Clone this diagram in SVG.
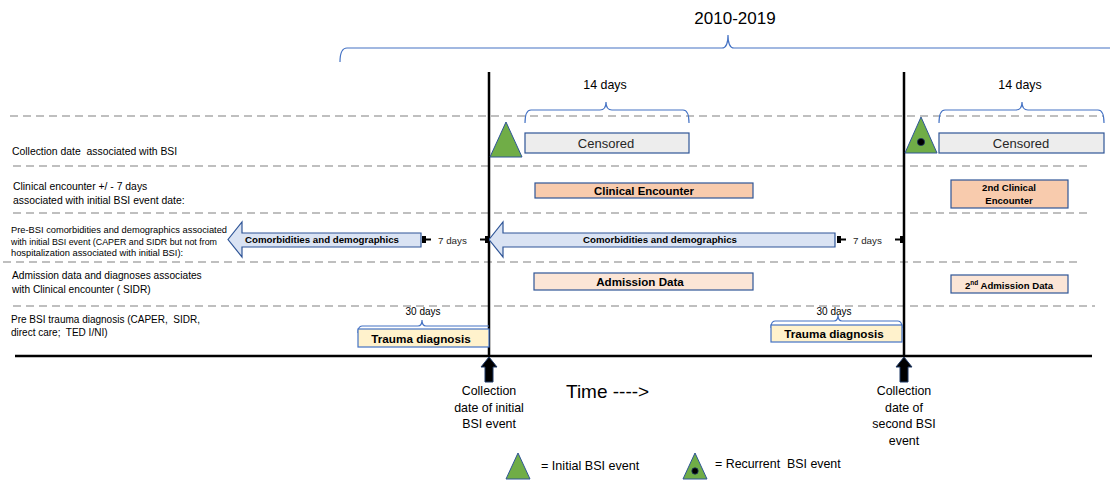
<svg xmlns="http://www.w3.org/2000/svg" width="1110" height="480" viewBox="0 0 1110 480" xml:space="preserve">
<style>
text{font-family:"Liberation Sans",Arial,sans-serif;fill:#000;white-space:pre}
.lbl{font-size:10.4px}
.sm{font-size:9.3px}
.dash{stroke:#bfbfbf;stroke-width:2;stroke-dasharray:8 5;fill:none}
.brace{stroke:#4472c4;stroke-width:1.2;fill:none}
.box{stroke:#2f5597;stroke-width:1.2}
.b{font-weight:bold}
.mid{text-anchor:middle}
.tri{fill:#70ad47;stroke:#2f5597;stroke-width:1}
.arr{fill:#dae3f3;stroke:#2f5597;stroke-width:1.2}
.vl{stroke:#000;stroke-width:2.5}
.cap{font-size:12.4px;text-anchor:middle}
</style>
<g id="gridlines">
<line class="dash" x1="10" y1="116" x2="1103" y2="116"/>
<line class="dash" x1="13" y1="166" x2="1092" y2="166"/>
<line class="dash" x1="13" y1="213" x2="1092" y2="213"/>
<line class="dash" x1="3" y1="262" x2="1082" y2="262"/>
<line class="dash" x1="13" y1="306" x2="1095" y2="306"/>
</g>
<g id="period">
<text x="735" y="24" class="mid" style="font-size:17px">2010-2019</text>
<path class="brace" d="M340,62 Q340,48 347,48 L722,48 Q728,48 728,35 Q728,48 734,48 L1110,48"/>
</g>
<g id="row-labels">
<text x="12" y="155" class="lbl">Collection date  associated with BSI</text>
<text x="13" y="190" class="lbl">Clinical encounter +/ - 7 days</text>
<text x="13" y="204" class="lbl">associated with initial BSI event date:</text>
<text x="11" y="233" class="sm">Pre-BSI comorbidities and demographics associated</text>
<text x="11" y="244.5" class="sm" textLength="206" lengthAdjust="spacingAndGlyphs">with initial BSI event (CAPER and SIDR but not from</text>
<text x="11" y="256" class="sm">hospitalization associated with initial BSI):</text>
<text x="12" y="279" class="lbl" style="font-size:10.2px">Admission data and diagnoses associates</text>
<text x="12" y="292.5" class="lbl" style="font-size:10.2px">with Clinical encounter ( SIDR)</text>
<text x="11" y="323" class="lbl" style="font-size:10px">Pre BSI trauma diagnosis (CAPER,  SIDR,</text>
<text x="11" y="336" class="lbl" style="font-size:10px">direct care;  TED I/NI)</text>
</g>
<g id="timeline">
<line x1="15" y1="356" x2="1092" y2="356" stroke="#000" stroke-width="2.5"/>
<line class="vl" x1="489" y1="72" x2="489" y2="357"/>
<line class="vl" x1="904" y1="72" x2="904" y2="357"/>
<text x="566" y="398" style="font-size:19px">Time ----&gt;</text>
</g>
<g id="event1">
<path class="brace" d="M525,123 Q525,110 531,110 L600,110 Q606,110 606,102 Q606,110 612,110 L683,110 Q689,110 689,123"/>
<text x="605" y="89" class="mid" style="font-size:12.4px">14 days</text>
<polygon class="tri" points="506,122 490,157 522,157"/>
<rect class="box" x="525" y="133" width="164" height="20" fill="#ededed"/>
<text x="606" y="148" class="mid" style="font-size:13px;fill:#262626">Censored</text>
</g>
<g id="clinical-encounter">
<rect class="box" x="535" y="183" width="218" height="15" fill="#f8cbad"/>
<text x="644" y="194.5" class="mid b" style="font-size:11.4px">Clinical Encounter</text>
</g>
<g id="comorbidities-1">
<polygon class="arr" points="228,239.5 242,222 242,233 421,233 421,247 242,247 242,257"/>
<text x="322" y="243" class="mid b" style="font-size:9.7px">Comorbidities and demographics</text>
</g>
<g id="comorbidities-2">
<polygon class="arr" points="489,239.5 503,222 503,233 835,233 835,247 503,247 503,257"/>
<text x="660" y="243" class="mid b" style="font-size:9.7px">Comorbidities and demographics</text>
</g>
<g id="interval-7days-1">
<rect x="422" y="236" width="4" height="7" fill="#000"/>
<line x1="426" y1="239.5" x2="431" y2="239.5" stroke="#000" stroke-width="2"/>
<text x="438" y="243.5" style="font-size:9.8px;fill:#262626">7 days</text>
<line x1="480" y1="239.5" x2="486" y2="239.5" stroke="#000" stroke-width="2"/>
<rect x="485" y="236" width="4" height="7" fill="#000"/>
</g>
<g id="interval-7days-2">
<rect x="837" y="236" width="4" height="7" fill="#000"/>
<line x1="841" y1="239.5" x2="846" y2="239.5" stroke="#000" stroke-width="2"/>
<text x="853" y="243.5" style="font-size:9.8px;fill:#262626">7 days</text>
<line x1="895" y1="239.5" x2="901" y2="239.5" stroke="#000" stroke-width="2"/>
<rect x="900" y="236" width="4" height="7" fill="#000"/>
</g>
<g id="admission-data">
<rect class="box" x="534" y="273" width="219" height="17" fill="#fbe5d6"/>
<text x="640" y="285.5" class="mid b" style="font-size:11.6px">Admission Data</text>
</g>
<g id="trauma-1">
<path class="brace" d="M358,333 Q358,326 362,326 L418,326 Q422,326 422,320 Q422,326 426,326 L489,326"/>
<text x="423" y="315" class="mid" style="font-size:10px">30 days</text>
<rect x="358" y="329" width="131" height="18" fill="#fff2cc" stroke="#4472c4" stroke-width="1.2"/>
<text x="421" y="342.5" class="mid b" style="font-size:11.7px">Trauma diagnosis</text>
</g>
<g id="trauma-2">
<path class="brace" d="M771,328 Q771,321 775,321 L834,321 Q838,321 838,315 Q838,321 842,321 L898,321 Q902,321 902,328"/>
<text x="834" y="315" class="mid" style="font-size:10px">30 days</text>
<rect x="771" y="325" width="131" height="17" fill="#fff2cc" stroke="#4472c4" stroke-width="1.2"/>
<text x="834" y="337.5" class="mid b" style="font-size:11.7px">Trauma diagnosis</text>
</g>
<g id="marker-1">
<polygon points="489,357 497,367 493,367 493,382 485,382 485,367 481,367" fill="#000" stroke="#1f3864" stroke-width="1"/>
<text x="489" y="395" class="cap">Collection</text>
<text x="489" y="411.5" class="cap">date of initial</text>
<text x="489" y="428" class="cap">BSI event</text>
</g>
<g id="event2">
<path class="brace" d="M939,123 Q939,110 945,110 L1016,110 Q1022,110 1022,102 Q1022,110 1028,110 L1098,110 Q1104,110 1104,123"/>
<text x="1020" y="89" class="mid" style="font-size:12.4px">14 days</text>
<polygon class="tri" points="921,117 905,153 937,153"/>
<circle cx="921" cy="142" r="3.6" fill="#000" stroke="#1f3864" stroke-width="0.8"/>
<rect class="box" x="939" y="133" width="165" height="20" fill="#ededed"/>
<text x="1021" y="148" class="mid" style="font-size:13px;fill:#262626">Censored</text>
</g>
<g id="clinical-encounter-2">
<rect class="box" x="951" y="180" width="117" height="28" fill="#f8cbad"/>
<text x="1009" y="191" class="mid b" style="font-size:9.6px">2nd Clinical</text>
<text x="1009" y="204" class="mid b" style="font-size:9.6px">Encounter</text>
</g>
<g id="admission-data-2">
<rect class="box" x="951" y="275" width="117" height="18" fill="#fbe5d6"/>
<text x="1009" y="288.5" class="mid b" style="font-size:9.6px">2<tspan dy="-3.5" style="font-size:6.5px">nd</tspan><tspan dy="3.5"> Admission Data</tspan></text>
</g>
<g id="marker-2">
<polygon points="904,357 912,367 908,367 908,382 900,382 900,367 896,367" fill="#000" stroke="#1f3864" stroke-width="1"/>
<text x="904" y="395" class="cap">Collection</text>
<text x="904" y="411.5" class="cap">date of</text>
<text x="904" y="428" class="cap">second BSI</text>
<text x="904" y="444.5" class="cap">event</text>
</g>
<g id="legend">
<polygon class="tri" points="518,453 506,479 530,479"/>
<text x="541" y="470" style="font-size:12.6px">= Initial BSI event</text>
<polygon class="tri" points="695,453 683,479 707,479"/>
<circle cx="695" cy="471" r="3.2" fill="#000" stroke="#1f3864" stroke-width="0.8"/>
<text x="715" y="468" style="font-size:12.4px">= Recurrent  BSI event</text>
</g>
</svg>
